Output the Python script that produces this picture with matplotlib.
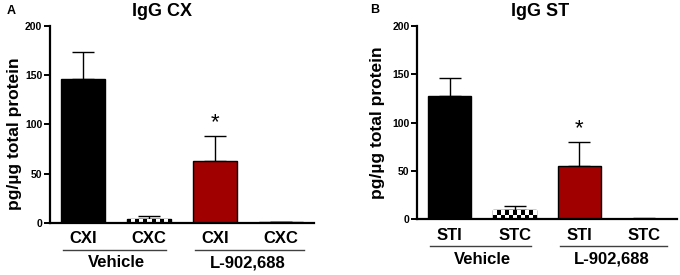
import numpy as np
import matplotlib
matplotlib.use("Agg")
import matplotlib.pyplot as plt
from matplotlib.transforms import offset_copy

plt.rcParams['font.family'] = ['Liberation Sans', 'DejaVu Sans']

# -------------------------------------------------------------------
# Data
# -------------------------------------------------------------------
groups = ["Vehicle", "L-902,688"]

cx_labels = ["CXI", "CXC", "CXI", "CXC"]
cx_means = [146.5, 4.0, 63.0, 0.5]
cx_sem = [27.0, 2.5, 25.5, 0.3]
cx_sig = [False, False, True, False]

st_labels = ["STI", "STC", "STI", "STC"]
st_means = [128.0, 9.6, 55.5, 0.8]
st_sem = [18.0, 4.2, 24.5, 0.7]
st_sig = [False, False, True, False]

RED = "#a00000"
fills = ["black", "checker", RED, "black"]


def checker_fill(ax, bar, cell_px=4.0):
    # draw a black/white checkerboard inside a bar, clipped to it
    x0, y0 = bar.get_x(), bar.get_y()
    w, h = bar.get_width(), bar.get_height()
    if h <= 0:
        return
    bb = ax.transData.transform([[x0, y0], [x0 + w, y0 + h]])
    ncol = max(1, int(round(abs(bb[1, 0] - bb[0, 0]) / cell_px)))
    nrow = max(1, int(np.ceil(abs(bb[1, 1] - bb[0, 1]) / cell_px)))
    ii, jj = np.indices((nrow, ncol))
    board = (ii + jj) % 2
    top = y0 + h * nrow * cell_px / abs(bb[1, 1] - bb[0, 1])
    im = ax.imshow(board, cmap="gray", extent=(x0, x0 + w, y0, top),
                   origin="lower", aspect="auto", interpolation="nearest",
                   zorder=bar.get_zorder() + 0.1)
    im.set_clip_path(bar)


def panel(ax, labels, means, sem, sig):
    x = np.arange(len(means))
    ax.set_xlim(-0.5, 3.5)
    ax.set_ylim(0, 200)
    bars = ax.bar(x, means, width=0.67, color="black", edgecolor="black",
                  linewidth=1.0, zorder=2)
    for b, f in zip(bars, fills):
        if f == "checker":
            b.set_facecolor("white")
            checker_fill(ax, b)
        else:
            b.set_facecolor(f)
    ax.errorbar(x, means, yerr=[np.zeros(len(sem)), sem], fmt="none",
                ecolor="black", elinewidth=1.0, capsize=8, capthick=1.0,
                zorder=1)
    ax.set_xlim(-0.5, 3.5)
    ax.set_ylim(0, 200)

    for xi, m, e, s in zip(x, means, sem, sig):
        if s:
            tr = offset_copy(ax.transData, fig=ax.figure, x=0, y=2, units="points")
            ax.text(xi, m + e, "*", transform=tr, ha="center", va="bottom",
                    fontsize=16)

    ax.spines["top"].set_visible(False)
    ax.spines["right"].set_visible(False)
    ax.spines["left"].set_linewidth(1.6)
    ax.spines["bottom"].set_linewidth(1.6)
    ax.set_yticks([0, 50, 100, 150, 200])
    ax.tick_params(axis="y", length=4, width=1.4, labelsize=7.5, pad=1.5)
    ax.tick_params(axis="x", length=0, labelsize=12, pad=6)
    for t in ax.get_yticklabels():
        t.set_fontweight("bold")
    ax.set_xticks(x)
    ax.set_xticklabels(labels, fontweight="bold")
    ax.set_ylabel("pg/µg total protein", fontsize=12.5, fontweight="bold")

    # group brackets under the category labels
    tr = ax.get_xaxis_transform()
    bottom_px = ax.get_window_extent().height
    line_y = -27.0 / bottom_px
    text_y = -40.0 / bottom_px
    for (a, b), g in zip([(-0.3, 1.25), (1.7, 3.35)], groups):
        ax.plot([a, b], [line_y, line_y], color="#404040", lw=1.0,
                transform=tr, clip_on=False)
        ax.text((x[0] + x[1]) / 2 if g == groups[0] else (x[2] + x[3]) / 2,
                text_y, g, transform=tr, ha="center", va="center",
                fontsize=12, fontweight="bold")


fig = plt.figure(figsize=(6.8, 2.75), dpi=100)
ax1 = fig.add_axes([50 / 680, 1 - 222.7 / 275, 264 / 680, 196.7 / 275])
ax2 = fig.add_axes([417.3 / 680, 1 - 219.3 / 275, 259.4 / 680, 193.3 / 275])

panel(ax1, cx_labels, cx_means, cx_sem, cx_sig)
panel(ax2, st_labels, st_means, st_sem, st_sig)

ax1.yaxis.set_label_coords(-0.106, 0.45)
ax2.yaxis.set_label_coords(-0.125, 0.5)

fig.text(162 / 680, 1 - 12 / 275, "IgG CX", ha="center", va="center",
         fontsize=13, fontweight="bold")
fig.text(540 / 680, 1 - 12 / 275, "IgG ST", ha="center", va="center",
         fontsize=13, fontweight="bold")
fig.text(11 / 680, 1 - 11 / 275, "A", ha="center", va="center",
         fontsize=9, fontweight="bold")
fig.text(375 / 680, 1 - 10 / 275, "B", ha="center", va="center",
         fontsize=9, fontweight="bold")

fig.savefig("out.png", dpi=100)
